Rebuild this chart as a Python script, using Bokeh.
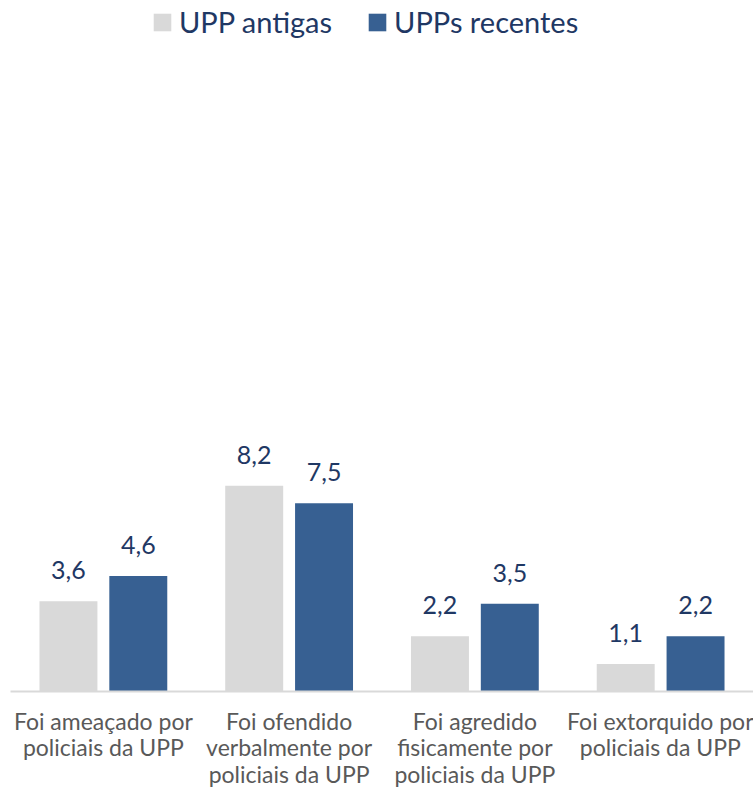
from bokeh.plotting import figure
from bokeh.models import ColumnDataSource, Range1d, FixedTicker, Legend, LegendItem
from bokeh.transform import dodge
from bokeh.core.properties import value
from bokeh.embed import file_html
from bokeh.resources import INLINE

categories = ["Foi ameaçado por\npoliciais da UPP",
              "Foi ofendido\nverbalmente por\npoliciais da UPP",
              "Foi agredido\nfisicamente por\npoliciais da UPP",
              "Foi extorquido por\npoliciais da UPP"]
upp_antigas = [3.6, 8.2, 2.2, 1.1]
upp_recentes = [4.6, 7.5, 3.5, 2.2]
series_names = ["UPP antigas", "UPPs recentes"]

FONT = "Lato"
GRAY = "#D9D9D9"
BLUE = "#376092"
NAVY = "#1F3864"

xpos = [i + 0.5 for i in range(len(categories))]
src = ColumnDataSource(dict(
    x=xpos,
    a=upp_antigas,
    r=upp_recentes,
    al=[f"{v:.1f}".replace(".", ",") for v in upp_antigas],
    rl=[f"{v:.1f}".replace(".", ",") for v in upp_recentes],
))

p = figure(width=753, height=795, output_backend="svg", toolbar_location=None,
           x_range=Range1d(0, 4), y_range=Range1d(0, 27.53),
           min_border_left=10, min_border_right=0, min_border_top=0,
           min_border_bottom=104)
p.outline_line_color = None
p.xgrid.visible = False
p.ygrid.visible = False
p.yaxis.visible = False

g1 = p.vbar(x=dodge("x", -0.188), top="a", width=0.312, source=src,
            fill_color=GRAY, line_color=None)
g2 = p.vbar(x=dodge("x", 0.188), top="r", width=0.312, source=src,
            fill_color=BLUE, line_color=None)

p.text(x=dodge("x", -0.188), y="a", text="al", source=src, y_offset=-31,
       text_align="center", text_baseline="alphabetic",
       text_font=value(FONT), text_font_size="25px", text_color=NAVY)
p.text(x=dodge("x", 0.188), y="r", text="rl", source=src, y_offset=-31,
       text_align="center", text_baseline="alphabetic",
       text_font=value(FONT), text_font_size="25px", text_color=NAVY)

ax = p.xaxis[0]
ax.ticker = FixedTicker(ticks=xpos)
ax.major_label_overrides = {x: c for x, c in zip(xpos, categories)}
ax.major_tick_line_color = None
ax.minor_tick_line_color = None
ax.axis_line_color = GRAY
ax.axis_line_width = 2
ax.major_label_standoff = 9
ax.major_label_text_font = FONT
ax.major_label_text_font_size = "23px"
ax.major_label_text_line_height = 0.95
ax.major_label_text_color = "#595959"
ax.major_label_text_align = "center"

legend = Legend(items=[LegendItem(label=series_names[0], renderers=[g1]),
                       LegendItem(label=series_names[1], renderers=[g2])],
                orientation="horizontal", location=(141, 652),
                border_line_color=None, background_fill_alpha=0,
                padding=0, margin=0, spacing=34,
                glyph_width=22, glyph_height=22, label_standoff=6,
                label_text_font=FONT, label_text_font_size="29px",
                label_text_color=NAVY)
p.add_layout(legend)

open("out.html", "w").write(file_html(p, INLINE))
